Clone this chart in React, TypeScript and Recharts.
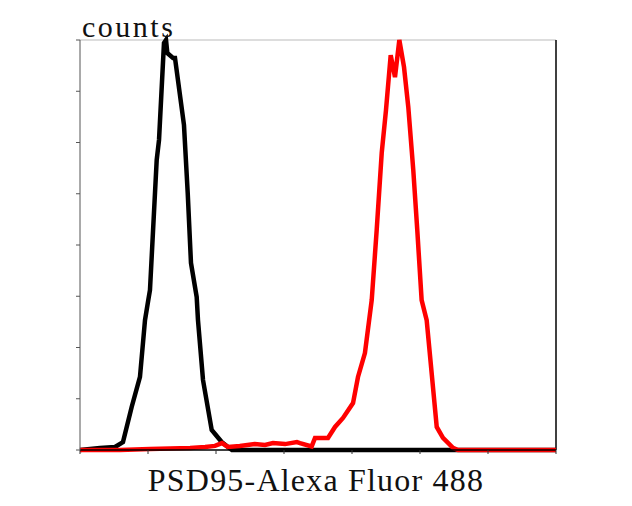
import { LineChart, Line, XAxis, YAxis, ReferenceLine } from "recharts";

// x in channel units (0..700), y in counts (0..160)
const blackX = [0, 29.4, 51.5, 63.2, 76, 88.2, 95.6, 100.4, 102.9, 112.8, 116.2, 123.5, 126.5, 128.4, 136.8, 139.7, 152.9, 158.4, 163.2, 171.6, 173.5, 180.9, 193.7, 208.4, 217.6, 223.5, 700];
const blackY = [0, 0.8, 1.2, 3.1, 16.8, 28.5, 50.7, 58.5, 62.4, 113.2, 121, 158.8, 160, 154.9, 153, 153, 126.8, 100.3, 73, 59.7, 50.7, 27.3, 7.8, 3.1, 1.2, 0, 0];

const redX = [0, 58.8, 103, 162, 184, 198.5, 208.8, 217.6, 235, 257, 272, 283.8, 301.5, 319, 323.5, 340.7, 345.6, 364.7, 375, 386.8, 401.5, 408.8, 419, 429, 436.3, 443.7, 450, 456.9, 463.2, 469.6, 476.5, 482.8, 490.1, 496, 502.4, 509.8, 524.6, 533.8, 548.5, 555.9, 700];
const redY = [0, 0, 0.4, 0.8, 1.2, 1.6, 2.7, 1.2, 1.6, 2.3, 2, 2.7, 2.3, 3.1, 2.7, 1.4, 4.7, 4.7, 9, 12.5, 18.3, 28.5, 37.8, 58.5, 85.8, 115.9, 132.7, 154.1, 145.5, 160, 149.4, 133.8, 109.3, 85.8, 58.5, 50.7, 9, 4.7, 0.8, 0, 0];

const xTicks = [0, 100, 200, 300, 400, 500, 600, 700];
const yTicks = [0, 20, 40, 60, 80, 100, 120, 140, 160];

const blackData = blackX.map((x, i) => ({ x, y: blackY[i] }));
const redData = redX.map((x, i) => ({ x, y: redY[i] }));

const font = '"Liberation Serif", "DejaVu Serif", serif';
const blankLabel = () => " ";

export default function App() {
  return (
    <div style={{ position: "absolute", left: 0, top: 0, width: 632, height: 506, background: "#fff" }}>
      <LineChart width={632} height={506} margin={{ top: 40, right: 76, left: 40, bottom: 26 }}>
        <XAxis
          type="number"
          dataKey="x"
          domain={[0, 700]}
          ticks={xTicks}
          interval={0}
          height={30}
          tickSize={4}
          tickFormatter={blankLabel}
          axisLine={{ stroke: "#000", strokeWidth: 1.5 }}
          tickLine={{ stroke: "#333", strokeWidth: 1 }}
          allowDuplicatedCategory={false}
        />
        <YAxis
          type="number"
          domain={[0, 160]}
          ticks={yTicks}
          interval={0}
          width={40}
          tickSize={4}
          tickFormatter={blankLabel}
          axisLine={{ stroke: "#555" }}
          tickLine={{ stroke: "#555", strokeWidth: 1 }}
        />
        <ReferenceLine y={160} stroke="#bbb" strokeWidth={1} />
        <ReferenceLine x={700} stroke="#000" strokeWidth={1.5} />
        <Line data={blackData} dataKey="y" type="linear" stroke="#000" strokeWidth={4.5} dot={false} isAnimationActive={false} />
        <Line data={redData} dataKey="y" type="linear" stroke="#ff0000" strokeWidth={4.5} dot={false} isAnimationActive={false} />
      </LineChart>
      <div style={{ position: "absolute", left: 82, top: 12, fontFamily: font, fontSize: 30, letterSpacing: 2.5, color: "#111", lineHeight: 1 }}>
        counts
      </div>
      <div style={{ position: "absolute", left: 0, width: 632, top: 464, textAlign: "center", fontFamily: font, fontSize: 32, letterSpacing: 1.2, color: "#111", lineHeight: 1 }}>
        PSD95-Alexa Fluor 488
      </div>
    </div>
  );
}
